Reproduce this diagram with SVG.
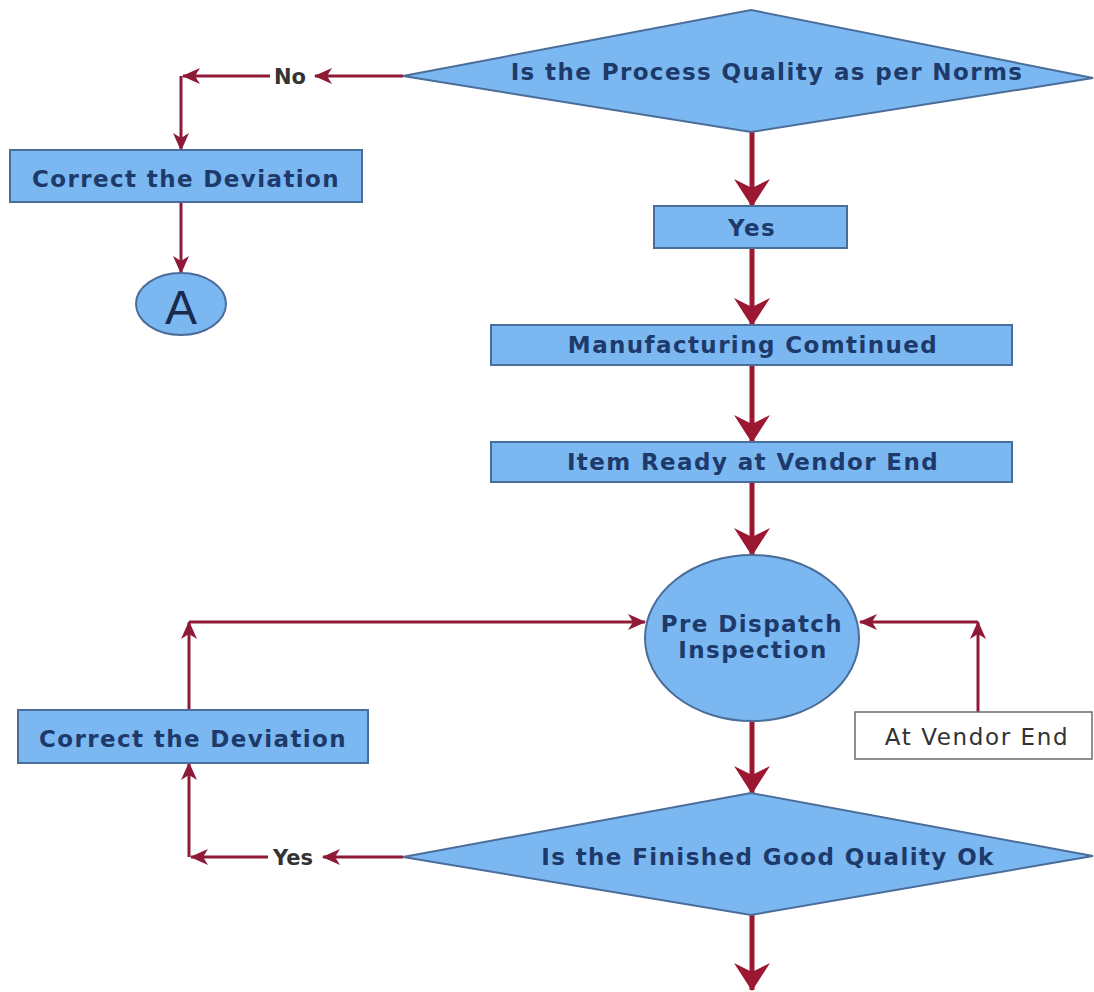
<svg xmlns="http://www.w3.org/2000/svg" width="1094" height="992" viewBox="0 0 1094 992">
  <style>
    .box { fill: #7bb8f2; stroke: #4b6d99; stroke-width: 2; }
    .plain { fill: #ffffff; stroke: #6b6b6b; stroke-width: 1.5; }
    .lbl { font-family: "DejaVu Sans", Verdana, sans-serif; font-weight: bold; font-size: 23px; letter-spacing: 1.4px; fill: #1d3a6b; text-anchor: middle; }
    .lbl-dark { font-family: "DejaVu Sans", Verdana, sans-serif; font-size: 23px; letter-spacing: 1.6px; fill: #333333; text-anchor: middle; }
    .tag { font-family: "DejaVu Sans", Verdana, sans-serif; font-weight: bold; font-size: 21px; fill: #333333; text-anchor: middle; }
    .main { stroke: #9c1832; stroke-width: 5; fill: none; }
    .side { stroke: #8e1a38; stroke-width: 3; fill: none; }
  </style>
  <defs>
    <marker id="bigHead" markerUnits="userSpaceOnUse" viewBox="0 0 28 36" markerWidth="28" markerHeight="36" refX="27" refY="18" orient="auto">
      <path d="M0,0 L28,18 L0,36 L9,18 z" fill="#9c1832"/>
    </marker>
    <marker id="smallHead" markerUnits="userSpaceOnUse" viewBox="0 0 18 16" markerWidth="18" markerHeight="16" refX="17" refY="8" orient="auto">
      <path d="M0,0 L18,8 L0,16 L5,8 z" fill="#8e1a38"/>
    </marker>
  </defs>

  <rect width="1094" height="992" fill="#ffffff"/>

  <!-- connectors -->
  <g id="connectors">
    <!-- top decision: No branch -->
    <path class="side" d="M403,76 L315,76" marker-end="url(#smallHead)"/>
    <path class="side" d="M270,76 L183,76" marker-end="url(#smallHead)"/>
    <path class="side" d="M181,76 L181,150" marker-end="url(#smallHead)"/>
    <path class="side" d="M181,202 L181,273" marker-end="url(#smallHead)"/>
    <!-- main spine -->
    <path class="main" d="M752,132 L752,206" marker-end="url(#bigHead)"/>
    <path class="main" d="M752,248 L752,325" marker-end="url(#bigHead)"/>
    <path class="main" d="M752,365 L752,442" marker-end="url(#bigHead)"/>
    <path class="main" d="M752,482 L752,555" marker-end="url(#bigHead)"/>
    <path class="main" d="M752,721 L752,793" marker-end="url(#bigHead)"/>
    <path class="main" d="M752,915 L752,990" marker-end="url(#bigHead)"/>
    <!-- rework loop back to inspection -->
    <path class="side" d="M189,710 L189,622" marker-end="url(#smallHead)"/>
    <path class="side" d="M189,622 L645,622" marker-end="url(#smallHead)"/>
    <!-- vendor end into inspection -->
    <path class="side" d="M978,712 L978,622" marker-end="url(#smallHead)"/>
    <path class="side" d="M978,622 L860,622" marker-end="url(#smallHead)"/>
    <!-- bottom decision: Yes branch -->
    <path class="side" d="M403,857 L323,857" marker-end="url(#smallHead)"/>
    <path class="side" d="M268,857 L191,857" marker-end="url(#smallHead)"/>
    <path class="side" d="M189,857 L189,763" marker-end="url(#smallHead)"/>
    <text class="tag" x="290" y="84">No</text>
    <text class="tag" x="293" y="865">Yes</text>
  </g>

  <g id="process-check">
    <polygon class="box" points="751,10 1093,78 751,132 403,76"/>
    <text class="lbl" x="767" y="80">Is the Process Quality as per Norms</text>
  </g>

  <g id="correct-top">
    <rect class="box" x="10" y="150" width="352" height="52"/>
    <text class="lbl" x="186" y="187">Correct the Deviation</text>
  </g>

  <g id="connector-a">
    <ellipse class="box" cx="181" cy="304" rx="45" ry="31"/>
    <text x="181" y="324" font-family="Liberation Sans, Arial, sans-serif" font-size="48" fill="#1a2a4e" text-anchor="middle">A</text>
  </g>

  <g id="yes-box">
    <rect class="box" x="654" y="206" width="193" height="42"/>
    <text class="lbl" x="752" y="236">Yes</text>
  </g>

  <g id="manufacturing">
    <rect class="box" x="491" y="325" width="521" height="40"/>
    <text class="lbl" x="753" y="353">Manufacturing Comtinued</text>
  </g>

  <g id="item-ready">
    <rect class="box" x="491" y="442" width="521" height="40"/>
    <text class="lbl" x="753" y="470">Item Ready at Vendor End</text>
  </g>

  <g id="inspection">
    <ellipse class="box" cx="752" cy="638" rx="107" ry="83"/>
    <text class="lbl" x="752" y="632">Pre Dispatch</text>
    <text class="lbl" x="753" y="658">Inspection</text>
  </g>

  <g id="correct-bottom">
    <rect class="box" x="18" y="710" width="350" height="53"/>
    <text class="lbl" x="193" y="747">Correct the Deviation</text>
  </g>

  <g id="vendor-end">
    <rect class="plain" x="855" y="712" width="237" height="47"/>
    <text class="lbl-dark" x="977" y="745">At Vendor End</text>
  </g>

  <g id="finished-check">
    <polygon class="box" points="751,793 1093,856 751,915 403,857"/>
    <text class="lbl" x="768" y="865">Is the Finished Good Quality Ok</text>
  </g>
</svg>
